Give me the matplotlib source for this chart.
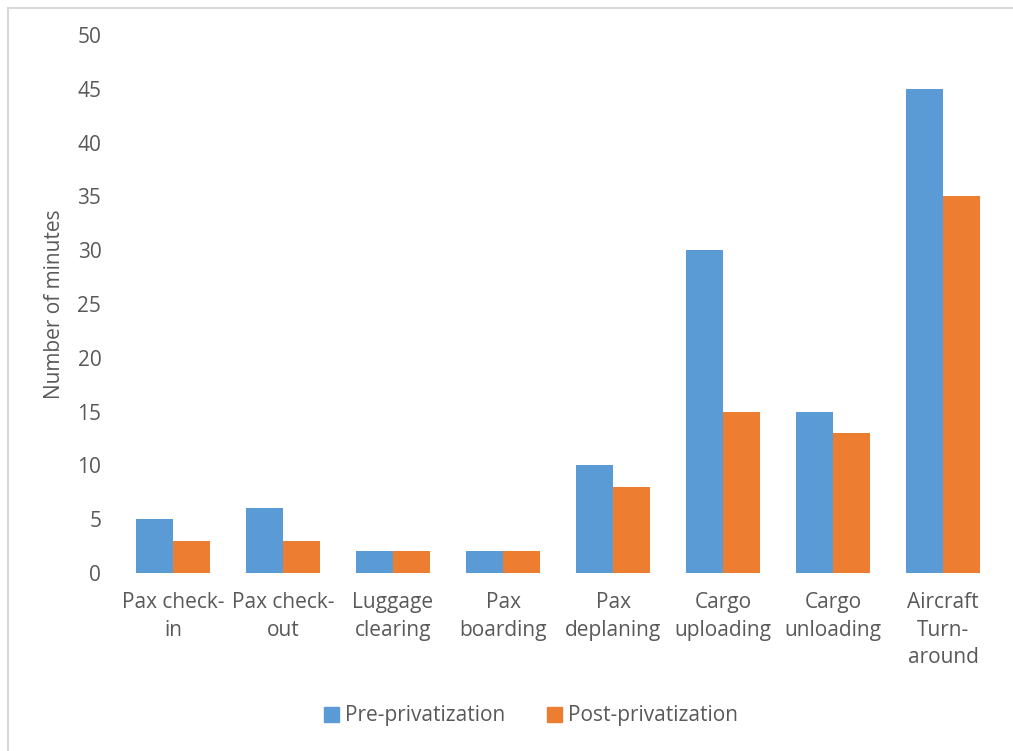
import matplotlib

matplotlib.use("Agg")
import matplotlib.pyplot as plt
from matplotlib.lines import Line2D
from matplotlib.patches import Patch
import numpy as np

CATEGORIES = ["Pax check-\nin", "Pax check-\nout", "Luggage\nclearing", "Pax\nboarding",
              "Pax\ndeplaning", "Cargo\nuploading", "Cargo\nunloading", "Aircraft\nTurn-\naround"]
PRE = [5, 6, 2, 2, 10, 30, 15, 45]
POST = [3, 3, 2, 2, 8, 15, 13, 35]
YTICKS = list(range(0, 51, 5))

BLUE = "#5B9BD5"
ORANGE = "#ED7D31"
TEXT = "#595959"
W, H = 1013, 751
FS = 15

plt.rcParams["font.family"] = ["Open Sans", "DejaVu Sans"]

fig = plt.figure(figsize=(W / 100, H / 100), dpi=100)
ax = fig.add_axes([118 / W, 1 - 573 / H, 880 / W, 538 / H])

x = np.arange(len(CATEGORIES))
bw = 0.333
ax.bar(x - bw / 2, PRE, bw, color=BLUE, label="Pre-privatization")
ax.bar(x + bw / 2, POST, bw, color=ORANGE, label="Post-privatization")

ax.set_xlim(-0.5, len(CATEGORIES) - 0.5)
ax.set_ylim(0, 50)
ax.set_yticks(YTICKS)
ax.set_xticks(x)
ax.set_xticklabels(CATEGORIES, linespacing=1.4)
for s in ax.spines.values():
    s.set_visible(False)
ax.tick_params(axis="both", length=0, labelsize=FS, colors=TEXT)
ax.tick_params(axis="y", pad=12)
ax.tick_params(axis="x", pad=14)
ax.set_ylabel("Number of minutes", fontsize=FS, color=TEXT, labelpad=9)

# outer chart border (only left and top visible in the crop)
fig.add_artist(Line2D([8 / W, 8 / W], [0, 1 - 8 / H], color="#D9D9D9", lw=1.5))
fig.add_artist(Line2D([8 / W, 1], [1 - 8 / H, 1 - 8 / H], color="#D9D9D9", lw=1.5))

handles = [Patch(color=BLUE, label="Pre-privatization"),
           Patch(color=ORANGE, label="Post-privatization")]
fig.legend(handles=handles, loc="center", bbox_to_anchor=(531 / W, 1 - 716 / H), ncol=2,
           frameon=False, fontsize=FS, labelcolor=TEXT, handlelength=0.7, handleheight=0.7,
           handletextpad=0.3, columnspacing=2.0)

fig.savefig("out.png", dpi=100)
